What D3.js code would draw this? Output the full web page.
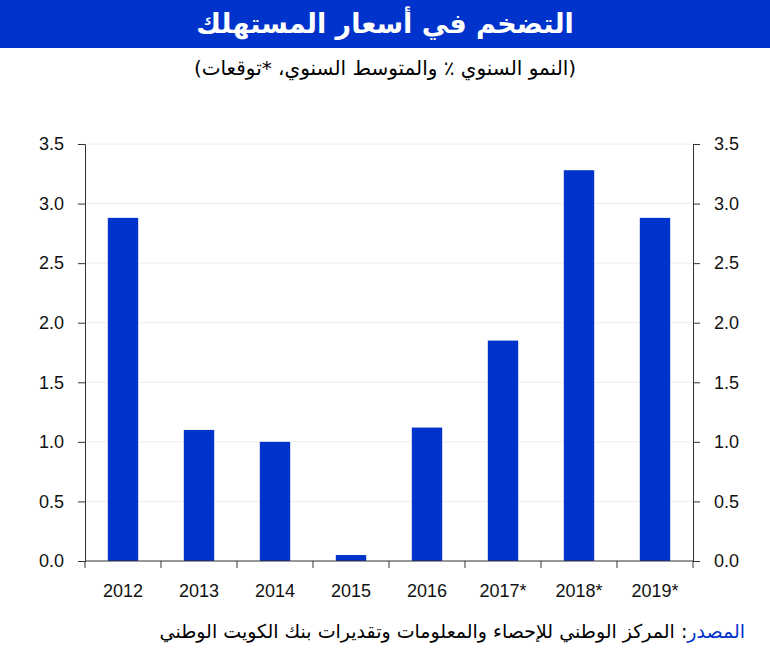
<!DOCTYPE html>
<html><head><meta charset="utf-8">
<script src="https://cdn.jsdelivr.net/npm/d3@7"></script>
<style>body{margin:0;background:#fff}svg{font-family:"Liberation Sans",Arial,sans-serif}</style>
</head><body><svg id="c" width="770" height="652"></svg>
<script>
const categories=["2012","2013","2014","2015","2016","2017*","2018*","2019*"];
const values=[2.88,1.10,1.00,0.05,1.12,1.85,3.28,2.88];
const yTicks=[0,0.5,1,1.5,2,2.5,3,3.5];
const title="التضخم في أسعار المستهلك";
const subtitle="(النمو السنوي ٪ والمتوسط السنوي، *توقعات)";
const sourceLabel="المصدر";
const sourceText=": المركز الوطني للإحصاء والمعلومات وتقديرات بنك الكويت الوطني";

const svg=d3.select("#c");
svg.append("rect").attr("x",0).attr("y",0).attr("width",770).attr("height",48).attr("fill","#0033cc");
svg.append("text").attr("x",385).attr("y",33).attr("text-anchor","middle").attr("fill","#fff")
 .attr("font-size",27).attr("font-weight","bold").attr("font-family","DejaVu Sans").text(title);
svg.append("text").attr("x",385).attr("y",75).attr("text-anchor","middle").attr("fill","#000")
 .attr("font-size",20).attr("font-family","DejaVu Sans").attr("direction","rtl").text(subtitle);

const L=85,R=693,T=144,B=561;
const x=d3.scaleBand().domain(categories).range([L,R]).paddingInner(0.6).paddingOuter(0.3);
const y=d3.scaleLinear().domain([0,3.5]).range([B,T]);

svg.append("g").selectAll("line").data(yTicks.slice(1)).join("line")
 .attr("x1",L).attr("x2",R).attr("y1",d=>y(d)).attr("y2",d=>y(d)).attr("stroke","#eee");

svg.append("g").selectAll("rect").data(values).join("rect")
 .attr("x",(d,i)=>x(categories[i])).attr("width",x.bandwidth())
 .attr("y",d=>y(d)).attr("height",d=>B-y(d)).attr("fill","#0033cc");

const fmt=d3.format(".1f");
const la=svg.append("g").attr("transform",`translate(${L},0)`).call(d3.axisLeft(y).tickValues(yTicks).tickFormat(fmt).tickSize(7).tickPadding(14));
const ra=svg.append("g").attr("transform",`translate(${R},0)`).call(d3.axisRight(y).tickValues(yTicks).tickFormat(fmt).tickSize(7).tickPadding(14));
[la,ra].forEach(a=>{a.selectAll("text").attr("font-size",18).attr("fill","#111").attr("font-family","Liberation Sans");a.selectAll("path,line").attr("stroke","#333");});

const xb=svg.append("g").attr("transform",`translate(0,${B})`);
xb.append("line").attr("x1",L).attr("x2",R).attr("stroke","#333");
const bounds=categories.map(c=>x(c)-x.step()*x.paddingInner()/2).concat([R]);
xb.selectAll("line.t").data(bounds).join("line").attr("class","t").attr("x1",d=>d).attr("x2",d=>d).attr("y1",0).attr("y2",7).attr("stroke","#333");
xb.selectAll("text").data(categories).join("text").attr("x",d=>x(d)+x.bandwidth()/2).attr("y",36)
 .attr("text-anchor","middle").attr("font-size",18).attr("fill","#111").text(d=>d);

const st=svg.append("text").attr("x",745).attr("y",638).attr("text-anchor","start").attr("direction","rtl")
 .attr("font-size",19).attr("font-family","DejaVu Sans");
st.append("tspan").attr("fill","#0033cc").text(sourceLabel);
st.append("tspan").attr("fill","#000").text(sourceText);
</script></body></html>
